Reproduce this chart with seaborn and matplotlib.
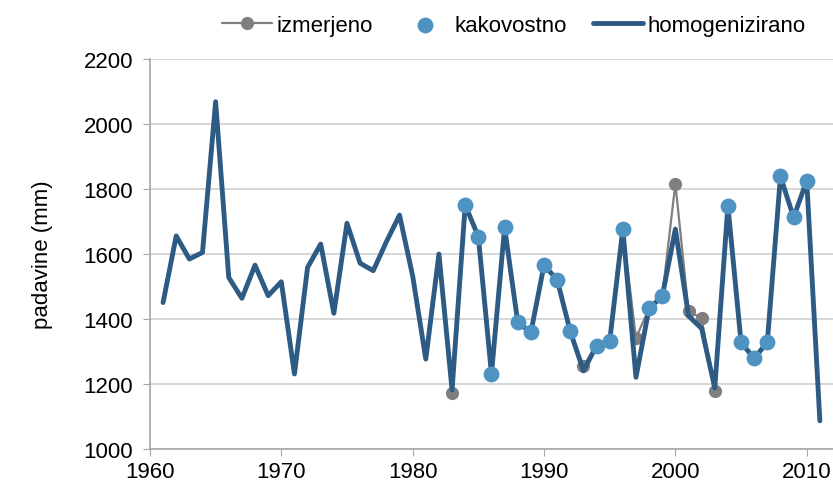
import numpy as np
import pandas as pd
import seaborn as sns
import matplotlib.pyplot as plt

# homogenizirane letne padavine 1961-2011
leta_hom = list(range(1961, 2012))
homogenizirano = [1451, 1656, 1585, 1605, 2069, 1528, 1464, 1566, 1472, 1515,
                  1231, 1559, 1631, 1418, 1695, 1572, 1549, 1638, 1720, 1533,
                  1277, 1600, 1182, 1751, 1654, 1231, 1682, 1390, 1359, 1566,
                  1521, 1362, 1241, 1318, 1333, 1677, 1221, 1433, 1470, 1677,
                  1410, 1371, 1188, 1749, 1328, 1279, 1329, 1839, 1713, 1826,
                  1087]

# izmerjeno 1983-2010
leta_izm = list(range(1983, 2011))
izmerjeno = [1172, 1751, 1654, 1231, 1682, 1390, 1359, 1566, 1521, 1362,
             1256, 1318, 1333, 1677, 1342, 1433, 1470, 1817, 1426, 1402,
             1178, 1749, 1328, 1279, 1329, 1839, 1713, 1826]

# kakovostni podatki
leta_kak = [1984, 1985, 1986, 1987, 1988, 1989, 1990, 1991, 1992, 1994, 1995,
            1996, 1998, 1999, 2004, 2005, 2006, 2007, 2008, 2009, 2010]
kakovostno = [1751, 1654, 1231, 1682, 1390, 1359, 1566, 1521, 1362, 1318, 1333,
              1677, 1433, 1470, 1749, 1328, 1279, 1329, 1839, 1713, 1826]

df_hom = pd.DataFrame({"leto": leta_hom, "mm": homogenizirano})
df_izm = pd.DataFrame({"leto": leta_izm, "mm": izmerjeno})
df_kak = pd.DataFrame({"leto": leta_kak, "mm": kakovostno})

sns.set_style("white")
plt.rcParams['font.family'] = ['Liberation Sans', 'DejaVu Sans']
plt.rcParams['text.color'] = 'black'

fig = plt.figure(figsize=(8.33, 4.85), dpi=100)
ax = fig.add_axes([0.18, 0.072, 0.82, 0.804])

c_izm = "#7f7f7f"
c_kak = "#4f93c3"
c_hom = "#2d5b84"

sns.lineplot(data=df_izm, x="leto", y="mm", ax=ax, color=c_izm, lw=1.6,
             marker="o", markersize=9.5, markeredgewidth=0, label="izmerjeno", zorder=2)
sns.lineplot(data=df_hom, x="leto", y="mm", ax=ax, color=c_hom, lw=3.5,
             label="homogenizirano", zorder=3)
sns.scatterplot(data=df_kak, x="leto", y="mm", ax=ax, color=c_kak, s=130,
                linewidth=0, label="kakovostno", zorder=4)

ax.set_xlim(1960, 2012)
ax.set_ylim(1000, 2200)
ax.set_xticks(range(1960, 2011, 10))
ax.set_yticks(range(1000, 2201, 200))
ax.yaxis.grid(True, color="#d0d0d0", lw=1.2)
ax.set_axisbelow(True)
for s in ["top", "right"]:
    ax.spines[s].set_visible(False)
for s in ["left", "bottom"]:
    ax.spines[s].set_color("#a6a6a6")
    ax.spines[s].set_linewidth(1.2)
ax.tick_params(axis="both", which="both", length=5, color="#a6a6a6",
               labelsize=16, labelcolor="black", direction="out",
               bottom=True, left=True)
ax.tick_params(axis="y", pad=7)
ax.set_xlabel("")
ax.set_ylabel("padavine (mm)", fontsize=16, color="black", labelpad=22)

h, l = ax.get_legend_handles_labels()
ax.get_legend().remove()
order = [l.index("izmerjeno"), l.index("kakovostno"), l.index("homogenizirano")]
fig.legend([h[i] for i in order], [l[i] for i in order], ncol=3, frameon=False,
           fontsize=16, loc="center", bbox_to_anchor=(0.617, 0.945),
           handlelength=2.25, handletextpad=0.2, columnspacing=1.2)

plt.savefig("out.png", dpi=100)
